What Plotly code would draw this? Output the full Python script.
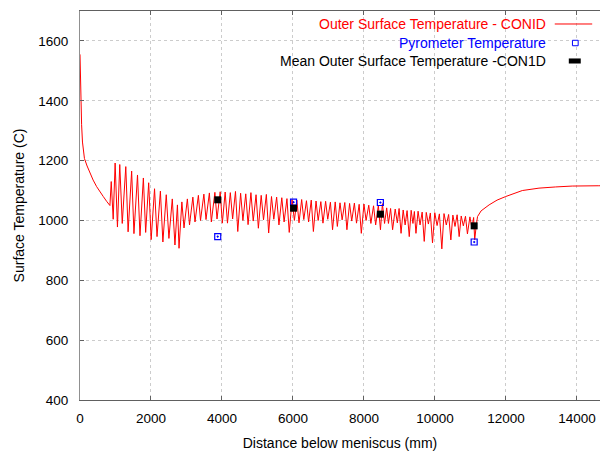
import plotly.graph_objects as go

# Outer surface temperature, CON1D: cooling in the mould
head_dist = [0, 10, 25, 45, 70, 94, 125, 200, 281, 370, 469, 560, 656, 750, 843]
head_temp = [1555, 1475, 1395, 1320, 1262, 1225, 1207, 1182, 1159, 1135, 1113, 1095, 1080, 1064, 1050]

# Spray zones: local maxima (reheating) and minima (under each spray row)
peak_dist = [880, 990, 1120, 1290, 1455, 1620, 1785, 1935, 2100, 2265, 2430, 2600, 2745,
             2870, 3025, 3180, 3335, 3490, 3645, 3800, 3950,
             4090, 4235, 4380, 4525, 4670, 4815, 4960, 5105, 5250, 5395, 5540, 5685, 5830, 5975,
             6110, 6245, 6380, 6515, 6650, 6785, 6920, 7055, 7190, 7325, 7460, 7595, 7730, 7865,
             8000, 8135, 8270, 8405, 8520,
             8640, 8750, 8880, 8990, 9105, 9215, 9330, 9420, 9525, 9640, 9755, 9870, 9995, 10125,
             10255, 10385, 10505, 10625, 10740, 10860, 10985, 11090]
peak_temp = [1130, 1192, 1187, 1180, 1165, 1152, 1142, 1126, 1106, 1098, 1086, 1072, 1052,
             1062, 1072, 1078, 1084, 1088, 1092, 1094, 1096,
             1095, 1093, 1097, 1091, 1089, 1093, 1086, 1084, 1087, 1080, 1078, 1076, 1073, 1070,
             1068, 1070, 1066, 1068, 1065, 1063, 1064, 1061, 1062, 1059, 1060, 1057, 1058, 1054,
             1055, 1051, 1049, 1050, 1056,
             1042, 1040, 1038, 1040, 1035, 1033, 1034, 1030, 1031, 1028, 1027, 1025, 1026, 1022,
             1023, 1020, 1018, 1019, 1015, 1014, 1012, 1010]
trough_dist = [935, 1055, 1190, 1355, 1520, 1690, 1850, 2005, 2170, 2335, 2505, 2675, 2790,
               2930, 3085, 3240, 3395, 3550, 3700, 3860, 4010,
               4155, 4300, 4445, 4590, 4735, 4880, 5025, 5170, 5315, 5460, 5605, 5750, 5895, 6040,
               6170, 6305, 6440, 6575, 6710, 6845, 6980, 7115, 7250, 7385, 7520, 7655, 7790, 7925,
               8060, 8195, 8330, 8465, 8580,
               8690, 8807, 8940, 9045, 9160, 9276, 9380, 9465, 9580, 9698, 9815, 9931, 10060, 10194,
               10320, 10448, 10565, 10682, 10800, 10915, 11040, 11120]
trough_temp = [1004, 978, 990, 962, 956, 949, 960, 936, 946, 928, 940, 918, 907,
               975, 985, 995, 1000, 1003, 995, 1005, 991,
               991, 1005, 963, 1000, 986, 998, 974, 1002, 958, 1004, 985, 995, 960, 1000,
               992, 1003, 995, 963, 1000, 991, 1004, 969, 980, 1002, 969, 998, 991, 957,
               1000, 990, 985, 969, 990,
               990, 969, 992, 957, 985, 946, 990, 957, 985, 930, 988, 925, 983, 905,
               985, 935, 980, 946, 982, 955, 975, 935]

# Air cooling below the last spray zone
tail_dist = [11165, 11200, 11300, 11525, 11750, 11994, 12461, 12931, 13400, 13867, 14617, 14800]
tail_temp = [985, 1013, 1032, 1052, 1068, 1080, 1100, 1108, 1112, 1115, 1116, 1116]

# Pyrometer readings and CON1D mean surface temperature at the same positions
pyro_dist = [3880, 6016, 8462, 11105]
pyro_temp = [946, 1061, 1060, 928]
mean_dist = [3880, 6016, 8462, 11105]
mean_temp = [1069, 1041, 1021, 982]

x_ticks = [0, 2000, 4000, 6000, 8000, 10000, 12000, 14000]
y_ticks = [400, 600, 800, 1000, 1200, 1400, 1600]

# Assemble the full outer-surface profile
line_dist = list(head_dist)
line_temp = list(head_temp)
for pd_, pt_, td_, tt_ in zip(peak_dist, peak_temp, trough_dist, trough_temp):
    line_dist += [pd_, td_]
    line_temp += [pt_, tt_]
line_dist += tail_dist
line_temp += tail_temp

FONT = "Liberation Sans, Arial, sans-serif"

fig = go.Figure()
fig.add_trace(go.Scatter(x=line_dist, y=line_temp, mode="lines",
                         line=dict(color="#ff0000", width=1), showlegend=False))
fig.add_trace(go.Scatter(x=pyro_dist, y=pyro_temp, mode="markers",
                         marker=dict(symbol="square-open-dot", size=6, color="#0000ff",
                                     line=dict(width=1.2, color="#0000ff")),
                         showlegend=False))
fig.add_trace(go.Scatter(x=mean_dist, y=mean_temp, mode="markers",
                         marker=dict(symbol="square", size=7, color="#000000",
                                     line=dict(width=0)),
                         showlegend=False))

# Legend: right-aligned labels with their samples to the right
legend_rows = [
    ("Outer Surface Temperature - CONID", "#ff0000", 0.9666),
    ("Pyrometer Temperature", "#0000ff", 0.9177),
    ("Mean Outer Surface Temperature -CON1D", "#000000", 0.8715),
]
for text, color, yy in legend_rows:
    fig.add_annotation(xref="paper", yref="paper", x=0.900, y=yy, text=text,
                       showarrow=False, xanchor="right", yanchor="middle",
                       font=dict(family=FONT, size=14, color=color))

fig.add_shape(type="line", xref="paper", yref="paper", x0=0.913, x1=0.985,
              y0=0.9666, y1=0.9666, line=dict(color="#ff0000", width=1))
fig.add_shape(type="rect", xref="paper", yref="paper", x0=0.947, x1=0.958,
              y0=0.9107, y1=0.9247, line=dict(color="#0000ff", width=1),
              fillcolor="#ffffff")
fig.add_shape(type="rect", xref="paper", yref="paper", x0=0.940, x1=0.963,
              y0=0.8650, y1=0.8780, line=dict(color="#000000", width=0),
              fillcolor="#000000")

fig.update_layout(
    width=600, height=455,
    margin=dict(l=80, r=0, t=11, b=55),
    paper_bgcolor="#ffffff", plot_bgcolor="#ffffff",
    font=dict(family=FONT, size=13.5, color="#000000"),
    showlegend=False,
)
fig.update_xaxes(
    range=[0, 14650], tickvals=x_ticks, ticktext=[str(v) for v in x_ticks],
    showgrid=True, gridcolor="#cccccc", griddash="dot", gridwidth=1,
    showline=True, linecolor="#606060", linewidth=1, mirror="ticks",
    ticks="inside", ticklen=4, tickcolor="#606060", ticklabelstandoff=6,
    zeroline=False,
    title=dict(text="Distance below meniscus (mm)", font=dict(size=14), standoff=12),
)
fig.update_yaxes(
    range=[400, 1700], tickvals=y_ticks, ticktext=[str(v) for v in y_ticks],
    showgrid=True, gridcolor="#cccccc", griddash="dot", gridwidth=1,
    showline=True, linecolor="#909090", linewidth=1, mirror=False,
    ticks="inside", ticklen=4, tickcolor="#606060", ticklabelstandoff=8,
    zeroline=False,
    title=dict(text="Surface Temperature (C)", font=dict(size=14), standoff=10),
)

fig.write_html("out.html")
